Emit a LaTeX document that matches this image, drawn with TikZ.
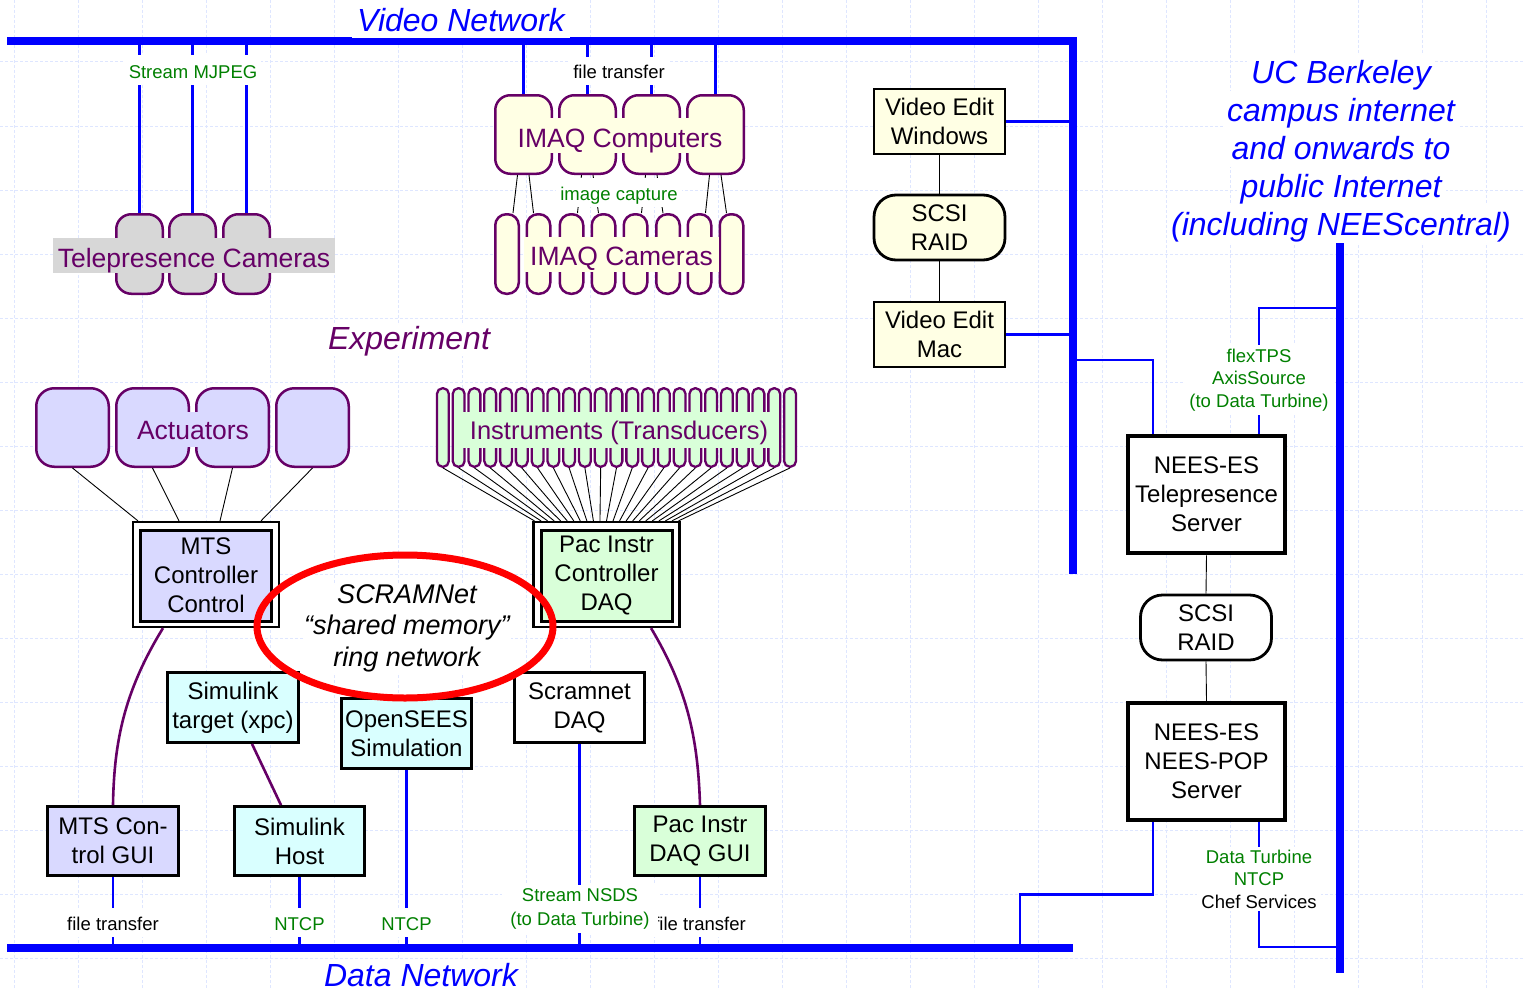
\documentclass[tikz,border=0pt]{standalone}
\usepackage{fontspec}
\setmainfont{Liberation Sans}
\usetikzlibrary{calc}
\definecolor{netblue}{RGB}{0,0,255}
\definecolor{lblgreen}{RGB}{0,128,0}
\definecolor{dpurple}{RGB}{102,0,102}
\definecolor{camgrey}{RGB}{215,215,215}
\definecolor{lyellow}{RGB}{255,255,228}
\definecolor{lavender}{RGB}{217,217,255}
\definecolor{lgreen}{RGB}{217,255,217}
\definecolor{lcyan}{RGB}{217,255,255}
\definecolor{gridblue}{RGB}{222,230,255}
\definecolor{ringred}{RGB}{255,0,0}
\newcommand\myfs[2]{\fontsize{#1}{#2}\selectfont}
\begin{document}
\begin{tikzpicture}[x=1pt,y=-1pt,
  gridline/.style={draw=gridblue,line width=1pt,dash pattern=on 3pt off 2pt},
  bus/.style={draw=netblue,line width=8pt},
  link/.style={draw=netblue,line width=2.6pt},
  wire/.style={draw=black,line width=0.9pt},
  plink/.style={draw=dpurple,line width=2.6pt},
  pc/.style={draw=black,line width=2.8pt,rectangle,inner sep=0pt,align=center,font=\myfs{24}{29}},
  server/.style={pc,line width=4.5pt,fill=white,minimum width=157pt,minimum height=117pt},
  tpcam/.style={draw=dpurple,line width=2.5pt,fill=camgrey,rounded corners=15pt,minimum width=46.5pt,minimum height=79.5pt,inner sep=0pt},
  imaqpc/.style={draw=dpurple,line width=2.5pt,fill=lyellow,rounded corners=15pt,minimum width=56.5pt,minimum height=78.5pt,inner sep=0pt},
  imaqcam/.style={draw=dpurple,line width=2.5pt,fill=lyellow,rounded corners=11pt,minimum width=23.5pt,minimum height=79.5pt,inner sep=0pt},
  actbox/.style={draw=dpurple,line width=2.5pt,fill=lavender,rounded corners=18pt,minimum width=72.5pt,minimum height=78.5pt,inner sep=0pt},
  instbox/.style={draw=dpurple,line width=2.3pt,fill=lgreen,rounded corners=5.5pt,minimum width=11.8pt,minimum height=78.5pt,inner sep=0pt},
  lbl/.style={fill=white,inner xsep=4pt,inner ysep=0pt},
  small/.style={font=\myfs{18.5}{22.5}},
  big/.style={font=\myfs{32}{38}\itshape},
  grouplbl/.style={font=\myfs{26.5}{30},text=dpurple,inner xsep=6pt,inner ysep=0pt,anchor=base}
]
\useasboundingbox (0,0) rectangle (1523,990);
\fill[white] (0,0) rectangle (1523,990);
% background grid
\foreach \gx in {14,78,...,1486} \draw[gridline] (\gx,0) -- (\gx,990);
\foreach \gy in {62,126,...,958} \draw[gridline] (0,\gy) -- (1523,\gy);

% buses
\coordinate (vbus) at (7,41);
\coordinate (vcorner) at (1073,41);
\coordinate (vend) at (1073,574);
\draw[bus] (vbus) -- (vcorner) -- (vend);
\coordinate (dbusL) at (7,947.5);
\coordinate (dbusR) at (1073,947.5);
\draw[bus] (dbusL) -- (dbusR);
\coordinate (ibusT) at (1339.5,243);
\coordinate (ibusB) at (1339.5,973);
\draw[bus] (ibusT) -- (ibusB);

% telepresence cameras
\foreach \n/\cx in {1/139.5,2/192.5,3/246.5} {
  \node[tpcam] (tc\n) at (\cx,254) {};
  \draw[link] (tc\n.north) -- (tc\n.north |- vbus);
}
\node[grouplbl,fill=camgrey,text height=29pt,text depth=6pt,inner xsep=5pt] (tclbl) at (194,267) {Telepresence Cameras};
\node[lbl,small,text=lblgreen,anchor=base,text height=23pt,text depth=7pt] (mjpeg) at (193,78) {Stream MJPEG};

% IMAQ computers and cameras
\foreach \n/\cx in {1/523.5,2/587.5,3/651.5,4/715.5} {
  \node[imaqpc] (cp\n) at (\cx,134.5) {};
  \draw[link] (cp\n.north) -- (cp\n.north |- vbus);
}
\foreach \n/\cx in {1/507,2/538.5,3/571.5,4/603.5,5/635.5,6/668,7/699.5,8/731.5}
  \node[imaqcam] (cam\n) at (\cx,254) {};
\foreach \c/\a/\b in {1/1/2,2/3/4,3/5/6,4/7/8} {
  \draw[wire] ([xshift=-6pt]cp\c.south) -- ([xshift=6pt]cam\a.north);
  \draw[wire] ([xshift=5.5pt]cp\c.south) -- ([xshift=-5pt]cam\b.north);
}
\node[grouplbl,fill=lyellow,text height=29pt,text depth=6pt] (cplbl) at (620,147) {IMAQ Computers};
\node[grouplbl,fill=lyellow,text height=29pt,text depth=6.5pt] (camlbl) at (621.5,265.7) {IMAQ Cameras};
\node[lbl,small,anchor=base,text height=21pt,text depth=7pt] (ftop) at (619,78) {file transfer};
\node[lbl,small,text=lblgreen,anchor=base,text height=22pt,text depth=7pt] (icap) at (619,200) {image capture};

% video edit column
\node[pc,fill=lyellow,minimum width=131pt,minimum height=65pt] (vew) at (939.5,121.5) {Video Edit\\Windows};
\node[pc,fill=lyellow,rounded corners=22pt,minimum width=131pt,minimum height=65pt] (raid1) at (939.5,227.5) {SCSI\\RAID};
\node[pc,fill=lyellow,minimum width=131pt,minimum height=65pt] (vem) at (939.5,334.5) {Video Edit\\Mac};
\draw[wire] (vew.south) -- (raid1.north);
\draw[wire] (raid1.south) -- (vem.north);
\draw[link] (vew.east) -- (vew.east -| vcorner);
\draw[link] (vem.east) -- (vem.east -| vcorner);

% servers
\node[server] (tele) at (1206.5,494.5) {NEES-ES\\Telepresence\\Server};
\node[pc,fill=white,rounded corners=22pt,minimum width=131pt,minimum height=65pt] (raid2) at (1206,627.5) {SCSI\\RAID};
\node[server] (pop) at (1206.5,761.5) {NEES-ES\\NEES-POP\\Server};
\draw[wire] (tele.south) -- (raid2.north);
\draw[wire] (raid2.south) -- (pop.north);
\coordinate (tap1) at (1073,360);
\draw[link] (tap1) -| ([xshift=-53.5pt]tele.north);
\coordinate (tap2) at (1339.5,308);
\draw[link] (tap2) -| ([xshift=52.5pt]tele.north);
\coordinate (tap3) at (1020,947.5);
\draw[link] ([xshift=-53.5pt]pop.south) -- ++(0,72) -| (tap3);
\coordinate (tap4) at (1339.5,947);
\draw[link] ([xshift=52.5pt]pop.south) |- (tap4);
\node[lbl,small,text=lblgreen,align=center,inner ysep=4pt] (flex) at (1259,380) {flexTPS\\AxisSource\\(to Data Turbine)};
\node[lbl,small,align=center,inner ysep=3pt] (dturb) at (1259,879) {\textcolor{lblgreen}{Data Turbine}\\\textcolor{lblgreen}{NTCP}\\Chef Services};

% UC Berkeley text
\foreach \t/\yy [count=\k] in {UC Berkeley/83,campus internet/121,and onwards to/159,public Internet/197,(including NEEScentral)/235}
  \node[lbl,big,text=netblue,anchor=base,text height=30pt,text depth=8pt] (ucb\k) at (1341,\yy) {\t};

% labels of networks
\node[lbl,big,text=netblue,anchor=base,text height=32pt,text depth=6.5pt,inner xsep=5pt] (vnet) at (461,32) {Video Network};
\node[lbl,big,text=netblue,anchor=base,text height=26pt,text depth=6pt,inner xsep=5pt] (dnet) at (421,986) {Data Network};
\node[lbl,big,text=dpurple,anchor=base,text height=26pt,text depth=7pt] (expt) at (409,349) {Experiment};

% actuators
\foreach \n/\cx in {1/72.5,2/152.5,3/232.5,4/312.5}
  \node[actbox] (ac\n) at (\cx,427.5) {};
\node[grouplbl,fill=lavender,text height=27pt,text depth=8pt,inner xsep=3pt] (aclbl) at (193,439) {Actuators};

% MTS controller (double frame)
\node[draw=black,line width=2.2pt,fill=white,minimum width=146pt,minimum height=105pt,inner sep=0pt] (mtsout) at (206,574.5) {};
\node[pc,fill=lavender,line width=3pt,minimum width=131pt,minimum height=91pt] (mts) at (206,575.5) {MTS\\Controller\\Control};
\foreach \n/\dx in {1/-68,2/-27,3/14,4/55}
  \draw[wire] (ac\n.south) -- ([xshift=\dx pt]mtsout.north);

% instruments
\foreach \i in {1,...,23}
  \node[instbox] (ins\i) at ({435+15.78*(\i-0.5)},427.5) {};
\node[grouplbl,fill=lgreen,font=\myfs{25.5}{30},text height=27pt,text depth=9pt,inner xsep=8pt] (inslbl) at (619,439) {Instruments (Transducers)};

% Pac Instr controller (double frame)
\node[draw=black,line width=2.2pt,fill=white,minimum width=146pt,minimum height=105pt,inner sep=0pt] (pacout) at (606.5,574.5) {};
\node[pc,fill=lgreen,line width=3pt,minimum width=131pt,minimum height=91pt] (pac) at (606.5,575.5) {Pac Instr\\Controller\\DAQ};
\foreach \i [evaluate=\i as \xs using -72+(\i-1)*144/22] in {1,...,23}
  \draw[wire] (ins\i.south) -- ([xshift=\xs pt]pacout.north);

% lower boxes
\node[pc,fill=lcyan,minimum width=131pt,minimum height=70pt] (simt) at (233,707.5) {Simulink\\target (xpc)};
\node[pc,fill=lcyan,minimum width=130pt,minimum height=70pt] (opens) at (406.5,733.5) {OpenSEES\\Simulation};
\node[pc,fill=white,minimum width=130pt,minimum height=70pt] (sdaq) at (579.5,707.5) {Scramnet\\DAQ};
\node[pc,fill=lavender,minimum width=131pt,minimum height=69pt] (mtsgui) at (113,841) {MTS Con-\\trol GUI};
\node[pc,fill=lcyan,minimum width=130pt,minimum height=69pt] (simh) at (299.5,841) {Simulink\\Host};
\node[pc,fill=lgreen,minimum width=131pt,minimum height=69pt] (pacgui) at (700,841) {Pac Instr\\DAQ GUI};

\draw[plink] ([xshift=-43pt]mtsout.south) .. controls (125,690) and (114,740) .. (mtsgui.north);
\draw[plink] ([xshift=44.5pt]pacout.south) .. controls (688,690) and (698,740) .. (pacgui.north);
\draw[plink] ([xshift=19pt]simt.south) -- ([xshift=-18.5pt]simh.north);

% links to data network
\draw[link] (mtsgui.south) -- (mtsgui.south |- dbusL);
\draw[link] (simh.south) -- (simh.south |- dbusL);
\draw[link] (opens.south) -- (opens.south |- dbusL);
\draw[link] (sdaq.south) -- (sdaq.south |- dbusL);
\draw[link] (pacgui.south) -- (pacgui.south |- dbusL);
\node[lbl,small,anchor=base,text height=22pt,text depth=7pt] (ft1) at (113,930) {file transfer};
\node[lbl,small,text=lblgreen,anchor=base,text height=22pt,text depth=7pt] (nt1) at (299.5,930) {NTCP};
\node[lbl,small,text=lblgreen,anchor=base,text height=22pt,text depth=7pt] (nt2) at (406.5,930) {NTCP};
\node[lbl,small,anchor=base,text height=22pt,text depth=7pt] (ft2) at (700,930) {file transfer};
\node[lbl,align=center,font=\myfs{18.5}{24},text=lblgreen,inner ysep=4pt,inner xsep=8pt] (nsds) at (580,909) {Stream NSDS\\(to Data Turbine)};

% SCRAMNet ring
\node[fill=white,inner sep=1pt,align=center,font=\myfs{27}{31.5}\itshape] (scram) at (407,628) {SCRAMNet\\“shared memory”\\ring network};
\draw[ringred,line width=7pt] (405,626.5) ellipse [x radius=148pt, y radius=71.5pt];
\end{tikzpicture}
\end{document}
